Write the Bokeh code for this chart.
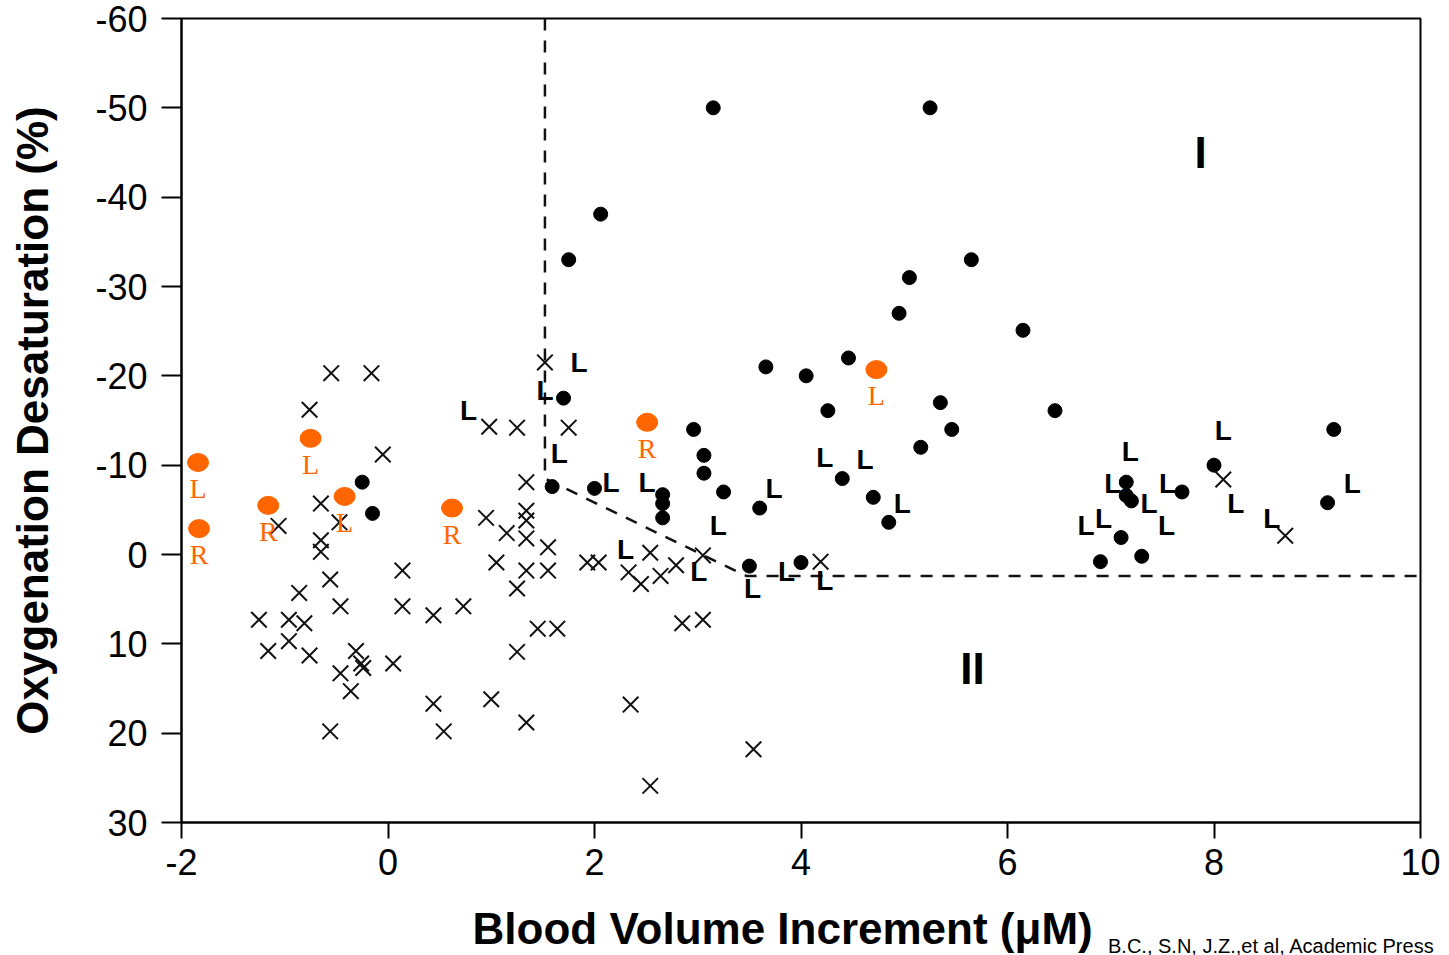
from bokeh.plotting import figure
from bokeh.models import Range1d, FixedTicker, Div
from bokeh.layouts import column
from bokeh.core.properties import value
from bokeh.embed import file_html
from bokeh.resources import INLINE

# ---------------- data ----------------
x_ticks = [-2, 0, 2, 4, 6, 8, 10]
y_ticks = [-60, -50, -40, -30, -20, -10, 0, 10, 20, 30]

# filled black dots
dots_x = [3.15, 5.25, 2.06, 1.75, 5.65, 5.05, 4.95, 6.15, 3.66, 4.46,
          4.05, 4.26, 5.35, 6.46, 5.46, 5.16, 1.70, 2.96, 3.06, 3.06,
          3.25, 2.66, 2.66, 2.66, 1.59, 2.00, 3.60, 4.40, 4.70, 4.85,
          -0.25, -0.15, 3.50, 4.00, 8.00, 9.16, 9.10, 7.69, 7.15, 7.15,
          7.20, 7.10, 7.30, 6.90]
dots_y = [-50.0, -50.0, -38.1, -33.0, -33.0, -31.0, -27.0, -25.1, -21.0, -22.0,
          -20.0, -16.1, -17.0, -16.1, -14.0, -12.0, -17.5, -14.0, -11.1, -9.1,
          -7.0, -6.7, -5.7, -4.1, -7.6, -7.4, -5.2, -8.5, -6.4, -3.6,
          -8.1, -4.6, 1.3, 0.9, -10.0, -14.0, -5.8, -7.0, -8.1, -6.6,
          -6.0, -1.9, 0.2, 0.8]

# crosses
cross_x = [-0.55, -0.16, -0.76, -0.05, -0.65, -1.06, -0.47, -0.65, -0.65, 0.14,
           -0.56, -0.86, -0.46, 0.14, 0.44, 0.73, -1.25, -0.96, -0.81, -0.96,
           -1.16, -0.76, -0.31, -0.26, -0.24, 0.05, -0.46, -0.36, 0.44, -0.56,
           0.54, 1.52, 0.98, 1.25, 1.75, 1.34, 0.95, 1.34, 1.34, 1.15,
           1.34, 1.55, 1.05, 1.93, 2.04, 1.34, 1.55, 1.25, 2.54, 2.33,
           2.45, 2.64, 2.79, 3.05, 4.19, 1.45, 1.64, 1.25, 2.85, 3.05,
           1.00, 1.34, 2.35, 2.54, 3.54, 8.09, 8.69]
cross_y = [-20.3, -20.3, -16.2, -11.2, -5.7, -3.2, -3.6, -1.6, -0.3, 1.8,
           2.8, 4.3, 5.8, 5.8, 6.8, 5.8, 7.3, 7.3, 7.7, 9.7,
           10.8, 11.3, 10.8, 12.2, 12.7, 12.2, 13.3, 15.3, 16.7, 19.8,
           19.8, -21.5, -14.3, -14.2, -14.2, -8.1, -4.1, -4.9, -3.8, -2.4,
           -1.8, -0.8, 0.9, 0.9, 0.9, 1.8, 1.8, 3.8, -0.2, 2.0,
           3.3, 2.4, 1.2, 0.1, 0.8, 8.3, 8.3, 10.9, 7.7, 7.3,
           16.2, 18.8, 16.8, 25.9, 21.8, -8.4, -2.1]

# "L" markers
l_x = [1.85, 1.52, 0.78, 1.66, 2.16, 2.51, 3.20, 2.30, 3.01, 3.53,
       3.86, 4.23, 4.23, 4.62, 3.74, 4.98, 8.09, 7.19, 7.02, 7.55,
       7.37, 8.21, 9.34, 6.76, 6.93, 7.54, 8.56]
l_y = [-21.5, -18.4, -16.1, -11.3, -8.1, -8.1, -3.2, -0.6, 1.9, 3.8,
       1.9, 2.9, -10.9, -10.6, -7.4, -5.7, -13.9, -11.5, -7.9, -7.9,
       -5.7, -5.7, -7.9, -3.2, -4.0, -3.2, -4.0]
l_text = ["L"] * len(l_x)

# orange highlighted points with side labels
orange_x = [-1.84, -1.83, -1.16, -0.75, -0.42, 0.62, 2.51, 4.73]
orange_y = [-10.3, -2.9, -5.5, -13.0, -6.5, -5.2, -14.8, -20.7]
orange_side = ["L", "R", "R", "L", "L", "R", "R", "L"]

# dashed boundary between regions
boundary_x = [1.52, 1.52, 3.47, 10.0]
boundary_y = [-60.0, -8.5, 2.4, 2.4]

# region labels
region_names = ["I", "II"]
region_x = [7.87, 5.66]
region_y = [-45.0, 12.8]

x_title = "Blood Volume Increment (μM)"
y_title = "Oxygenation Desaturation (%)"
credit = "B.C., S.N, J.Z.,et al, Academic Press"

# ---------------- figure ----------------
FONT = "Liberation Sans"
W, H = 1441, 955
FL, FT, FR, FB = 181, 18, 1420, 822   # frame edges in page pixels
p = figure(width=W, height=H, output_backend="svg", toolbar_location=None,
           x_range=Range1d(-2, 10), y_range=Range1d(30, -60),
           min_border_left=FL, min_border_right=W - FR, min_border_top=FT,
           min_border_bottom=H - FB)
p.background_fill_color = "white"
p.border_fill_color = "white"
p.grid.visible = False
p.outline_line_color = "black"
p.outline_line_width = 2
p.outline_line_alpha = 1

for ax in (p.xaxis[0], p.yaxis[0]):
    ax.axis_line_width = 2
    ax.axis_line_color = "black"
    ax.major_tick_line_width = 2
    ax.major_tick_line_color = "black"
    ax.major_tick_in = 0
    ax.minor_tick_line_color = None
    ax.major_label_text_font = FONT
    ax.major_label_text_font_size = "36px"
    ax.major_label_text_color = "black"
    ax.axis_label_text_font = FONT
    ax.axis_label_text_font_size = "44px"
    ax.axis_label_text_font_style = "bold"
    ax.axis_label_text_color = "black"

p.xaxis.ticker = FixedTicker(ticks=x_ticks)
p.yaxis.ticker = FixedTicker(ticks=y_ticks)
p.xaxis.major_label_overrides = {t: str(t) for t in x_ticks}
p.yaxis.major_label_overrides = {t: str(t) for t in y_ticks}
p.xaxis.major_tick_out = 16
p.yaxis.major_tick_out = 20
p.xaxis.major_label_standoff = 10
p.yaxis.major_label_standoff = 14
# trailing no-break spaces nudge the centred title a little to the left
p.xaxis.axis_label = x_title + "\u00a0\u00a0\u00a0"
p.yaxis.axis_label = y_title
p.xaxis.axis_label_standoff = 26
p.yaxis.axis_label_standoff = 35

# boundary
p.line(boundary_x, boundary_y, line_dash="12 10", line_width=2.5, line_color="#111111")

# crosses
p.scatter(cross_x, cross_y, marker="x", size=22, line_width=2, line_color="#111111")

# dots
p.scatter(dots_x, dots_y, marker="circle", size=14, fill_color="black", line_color="black")

# L markers
p.text(l_x, l_y, text=l_text, text_font=value(FONT), text_font_style="bold",
       text_font_size="28px", text_align="center", text_baseline="middle",
       text_color="black")

# orange points
p.ellipse(orange_x, orange_y, width=21, height=18, width_units="screen",
          height_units="screen", fill_color="#FF6600", line_color="#FF6600")
p.text(orange_x, orange_y, text=orange_side, y_offset=26,
       text_font=value("Liberation Serif"), text_font_size="28px",
       text_align="center", text_baseline="middle", text_color="#FF6600")

# region labels
p.text(region_x, region_y, text=region_names, text_font=value(FONT),
       text_font_style="bold", text_font_size="44px", text_align="center",
       text_baseline="middle", text_color="black")

# credit line, laid over the bottom-right corner of the page
note = Div(text=credit, width=335, height=23,
           styles={"position": "absolute", "left": "1103px", "top": "930px",
                   "font-family": "Liberation Sans", "font-size": "20px",
                   "color": "black", "white-space": "nowrap",
                   "line-height": "23px", "z-index": "10"})

layout = column(p, note)
open("out.html", "w").write(file_html(layout, INLINE))
